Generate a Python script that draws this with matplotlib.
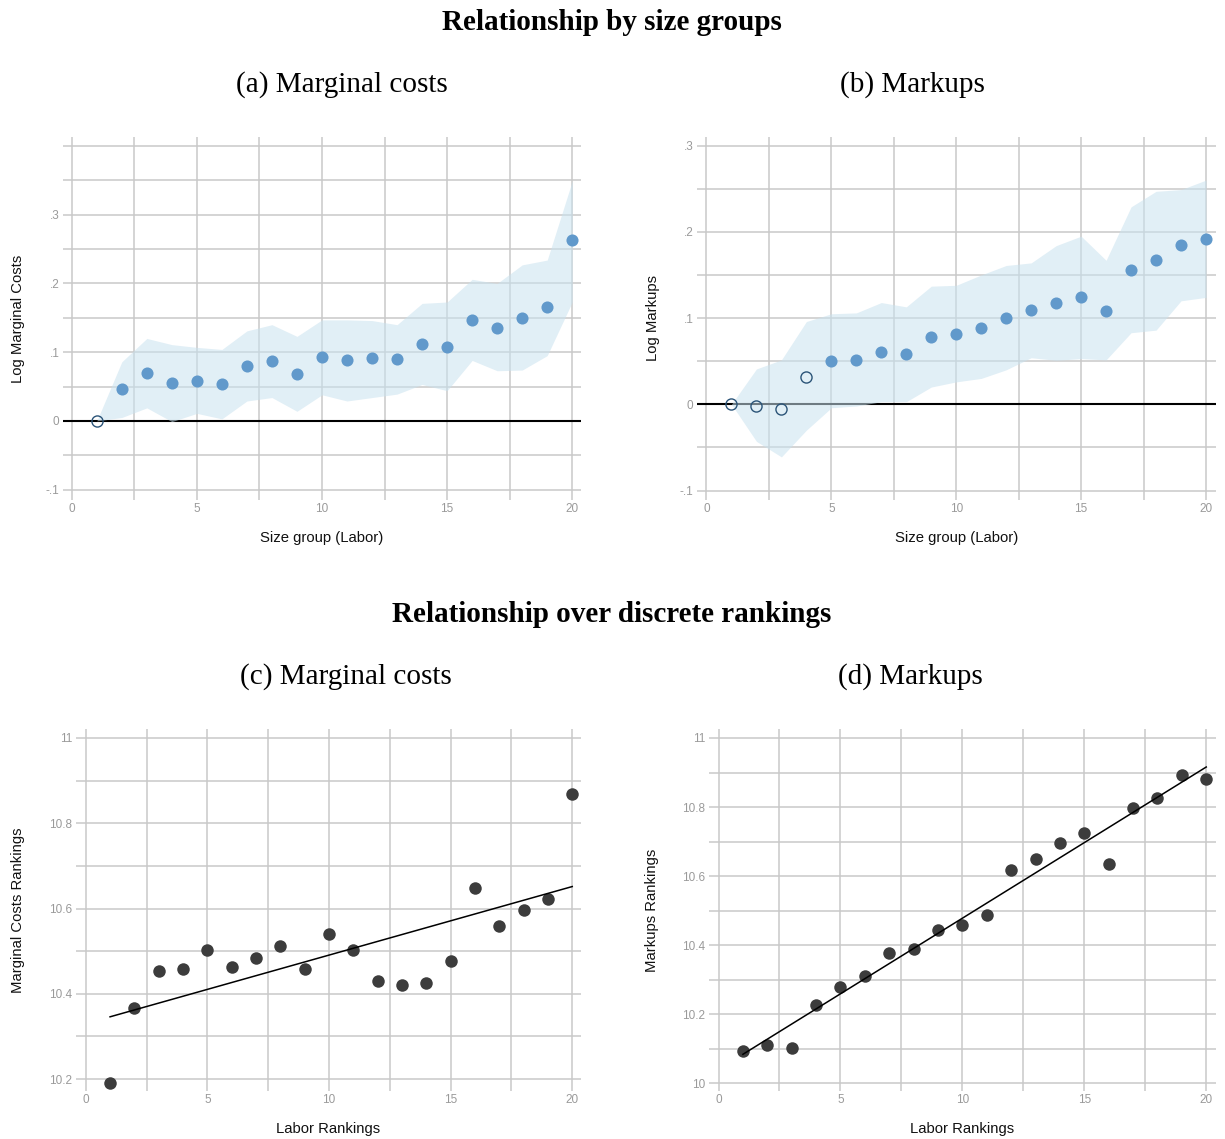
import numpy as np
import matplotlib
matplotlib.use('Agg')
import matplotlib.pyplot as plt

# Size groups (labor) and coefficient estimates with 95% bands
groups = list(range(1, 21))

mc_coef = [0, 0.046, 0.069, 0.055, 0.058, 0.053, 0.080, 0.087, 0.068, 0.093,
           0.088, 0.091, 0.090, 0.112, 0.107, 0.147, 0.135, 0.150, 0.165, 0.263]
mc_hi = [0, 0.086, 0.120, 0.111, 0.107, 0.104, 0.131, 0.140, 0.123, 0.147,
         0.147, 0.146, 0.140, 0.171, 0.173, 0.206, 0.200, 0.227, 0.234, 0.349]
mc_lo = [0, 0.005, 0.019, -0.001, 0.011, 0.003, 0.029, 0.034, 0.014, 0.038,
         0.029, 0.034, 0.039, 0.053, 0.044, 0.088, 0.073, 0.074, 0.095, 0.173]
mc_sig = [False] + [True] * 19

mu_coef = [0, -0.002, -0.005, 0.032, 0.050, 0.0515, 0.061, 0.058, 0.078, 0.082,
           0.089, 0.100, 0.109, 0.117, 0.125, 0.108, 0.156, 0.167, 0.185, 0.192]
mu_hi = [0, 0.041, 0.0515, 0.096, 0.105, 0.106, 0.118, 0.113, 0.137, 0.138,
         0.150, 0.161, 0.164, 0.184, 0.195, 0.167, 0.229, 0.247, 0.249, 0.260]
mu_lo = [0, -0.043, -0.061, -0.030, -0.004, -0.002, 0.003, 0.003, 0.020, 0.026,
         0.030, 0.040, 0.054, 0.051, 0.053, 0.0515, 0.083, 0.086, 0.120, 0.124]
mu_sig = [False] * 4 + [True] * 16

# Discrete rankings
labor_rank = list(range(1, 21))
mc_rank = [10.191, 10.367, 10.453, 10.459, 10.503, 10.462, 10.483, 10.513, 10.457, 10.540,
           10.502, 10.430, 10.420, 10.425, 10.478, 10.647, 10.558, 10.596, 10.623, 10.868]
mu_rank = [10.095, 10.112, 10.102, 10.228, 10.278, 10.310, 10.378, 10.389, 10.443, 10.459,
           10.487, 10.617, 10.650, 10.695, 10.726, 10.636, 10.798, 10.825, 10.893, 10.881]

x_ticks = [0, 5, 10, 15, 20]
x_minor = [2.5, 7.5, 12.5, 17.5]

W, H = 1225, 1139
fig = plt.figure(figsize=(W / 100, H / 100), dpi=100)

GRID = '#c9c9c9'
TICK = '#9a9a9a'
BLUE = '#6199cb'
NAVY = '#2b5478'
BAND = (0.79, 0.886, 0.937)
DARK = '#3c3c3c'
SANS = ['Liberation Sans', 'DejaVu Sans']
SERIF = ['Liberation Serif', 'DejaVu Serif']


def px_axes(left, top, right, bottom):
    # axes from pixel box (image coords, origin top-left)
    return fig.add_axes([left / W, 1 - bottom / H, (right - left) / W, (bottom - top) / H])


def style(ax, xlim, ylim, yticks, ylabels, yminor, xlabel, ylabel, ylab_x, xlab_y):
    ax.set_xlim(*xlim)
    ax.set_ylim(*ylim)
    ax.set_xticks(x_ticks)
    ax.set_xticklabels([str(t) for t in x_ticks])
    ax.set_xticks(x_minor, minor=True)
    ax.set_yticks(yticks)
    ax.set_yticklabels(ylabels)
    ax.set_yticks(yminor, minor=True)
    ax.grid(which='both', color=GRID, linewidth=1.1, zorder=0)
    ax.set_axisbelow(True)
    for s in ax.spines.values():
        s.set_visible(False)
    ax.tick_params(which='both', length=0, labelsize=8.5, labelcolor=TICK, pad=2.5)
    for lab in ax.get_xticklabels() + ax.get_yticklabels():
        lab.set_family(SANS)
    ax.set_xlabel(xlabel, fontsize=10.7, family=SANS, color='#111111')
    ax.set_ylabel(ylabel, fontsize=10.7, family=SANS, color='#111111')
    ax.yaxis.set_label_coords(ylab_x, 0.5)
    ax.xaxis.set_label_coords(0.5, xlab_y)


def coef_panel(ax, coef, lo, hi, sig):
    ax.axhline(0, color='black', linewidth=1.5, zorder=2)
    ax.fill_between(groups, lo, hi, color=BAND, alpha=0.55, linewidth=0, zorder=3)
    xs = np.array(groups)
    cs = np.array(coef)
    sg = np.array(sig)
    ax.plot(xs[sg], cs[sg], 'o', color=BLUE, markersize=8.7, markeredgewidth=0, zorder=4)
    ax.plot(xs[~sg], cs[~sg], 'o', mfc='none', mec=NAVY, markersize=8, markeredgewidth=1.0, zorder=4)


def rank_panel(ax, y):
    ax.plot(labor_rank, y, 'o', color=DARK, markersize=9, markeredgewidth=0, zorder=3)
    b, a = np.polyfit(labor_rank, y, 1)
    xf = np.array([min(labor_rank), max(labor_rank)])
    ax.plot(xf, a + b * xf, color='black', linewidth=1.1, zorder=4)


# (a) marginal costs by size group
ax_a = px_axes(63, 137, 581, 500)
coef_panel(ax_a, mc_coef, mc_lo, mc_hi, mc_sig)
style(ax_a, (-0.35, 20.35), (-0.115, 0.413),
      [-0.1, 0, 0.1, 0.2, 0.3], ['-.1', '0', '.1', '.2', '.3'],
      [-0.05, 0.05, 0.15, 0.25, 0.35, 0.4],
      'Size group (Labor)', 'Log Marginal Costs', -0.073, -0.085)

# (b) markups by size group
ax_b = px_axes(697, 137, 1216, 500)
coef_panel(ax_b, mu_coef, mu_lo, mu_hi, mu_sig)
style(ax_b, (-0.38, 20.4), (-0.111, 0.31),
      [-0.1, 0, 0.1, 0.2, 0.3], ['-.1', '0', '.1', '.2', '.3'],
      [-0.05, 0.05, 0.15, 0.25],
      'Size group (Labor)', 'Log Markups', -0.071, -0.085)

# (c) marginal cost rankings
ax_c = px_axes(76, 729, 581, 1091)
rank_panel(ax_c, mc_rank)
style(ax_c, (-0.4, 20.36), (10.172, 11.021),
      [10.2, 10.4, 10.6, 10.8, 11.0], ['10.2', '10.4', '10.6', '10.8', '11'],
      [10.3, 10.5, 10.7, 10.9],
      'Labor Rankings', 'Marginal Costs Rankings', -0.101, -0.085)

# (d) markup rankings
ax_d = px_axes(709, 729, 1216, 1091)
rank_panel(ax_d, mu_rank)
style(ax_d, (-0.39, 20.4), (9.978, 11.026),
      [10.0, 10.2, 10.4, 10.6, 10.8, 11.0], ['10', '10.2', '10.4', '10.6', '10.8', '11'],
      [10.1, 10.3, 10.5, 10.7, 10.9],
      'Labor Rankings', 'Markups Rankings', -0.098, -0.085)

# Titles
fig.text(612 / W, 1 - 22 / H, 'Relationship by size groups', ha='center', va='center',
         fontsize=21, fontweight='bold', family=SERIF)
fig.text(342 / W, 1 - 85 / H, '(a) Marginal costs', ha='center', va='center', fontsize=21, family=SERIF)
fig.text(912 / W, 1 - 85 / H, '(b) Markups', ha='center', va='center', fontsize=21, family=SERIF)
fig.text(612 / W, 1 - 614 / H, 'Relationship over discrete rankings', ha='center', va='center',
         fontsize=21, fontweight='bold', family=SERIF)
fig.text(346 / W, 1 - 677 / H, '(c) Marginal costs', ha='center', va='center', fontsize=21, family=SERIF)
fig.text(910 / W, 1 - 677 / H, '(d) Markups', ha='center', va='center', fontsize=21, family=SERIF)

fig.savefig('out.png', dpi=100)
